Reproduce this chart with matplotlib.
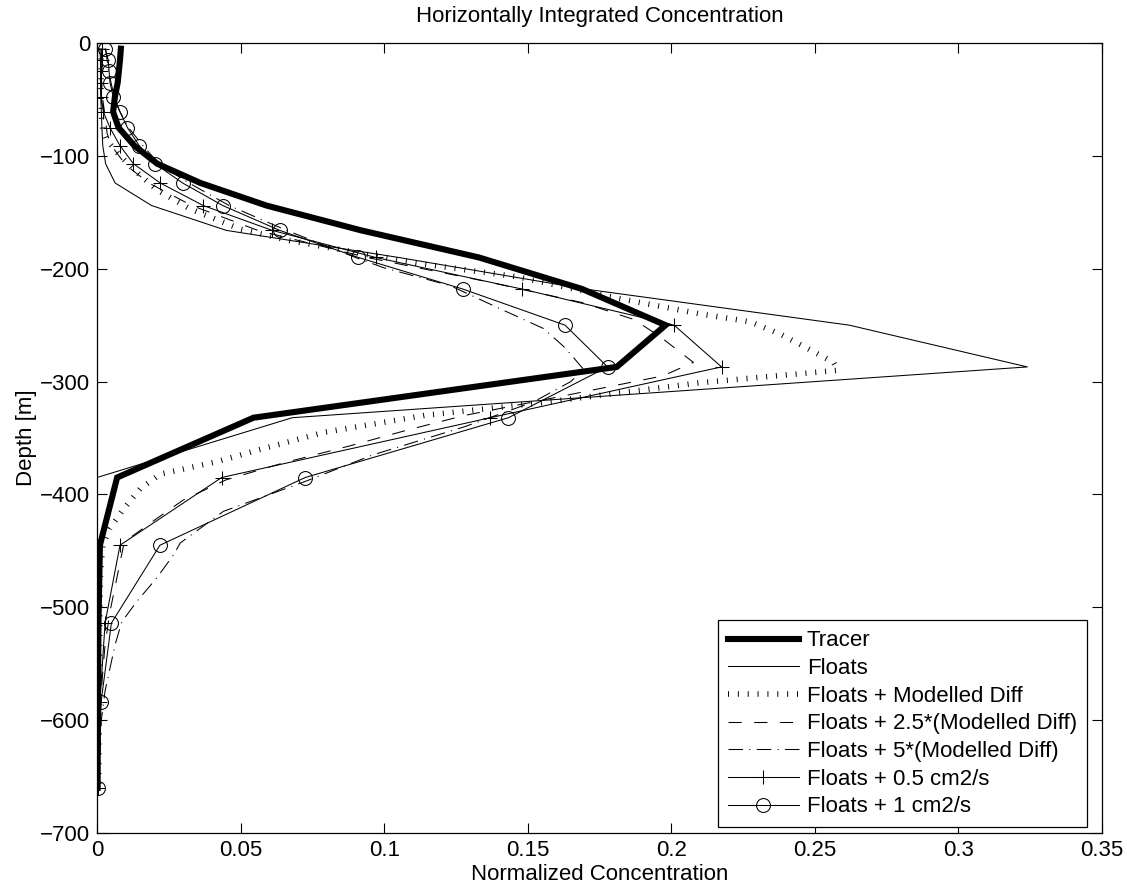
import matplotlib
matplotlib.use("Agg")
import matplotlib.pyplot as plt
from matplotlib.ticker import FuncFormatter, MultipleLocator

plt.rcParams['font.family'] = ['Liberation Sans', 'DejaVu Sans']
plt.rcParams['lines.scale_dashes'] = False

# ---- data ----
depth = [-5, -15, -25, -35, -48, -61, -75, -91, -107, -124, -144, -166, -190,
         -218, -250, -287, -332, -385, -445, -514, -584, -660]
tracer = [0.0083, 0.0080, 0.0076, 0.0072, 0.0062, 0.0056, 0.0075, 0.013, 0.021,
          0.036, 0.059, 0.092, 0.133, 0.169, 0.198, 0.181, 0.0545, 0.007, 0.001,
          0.0005, 0.0003, 0.0002]
floats = [0.001, 0.0012, 0.0012, 0.0012, 0.0013, 0.0015, 0.0017, 0.002, 0.003,
          0.0063, 0.019, 0.045, 0.105, 0.17, 0.262, 0.324, 0.068, 0.0, 0.0, 0.0,
          0.0, 0.0]
floats_k05 = [0.0018, 0.0017, 0.0015, 0.0013, 0.0015, 0.0022, 0.0045, 0.008,
              0.0127, 0.022, 0.037, 0.061, 0.097, 0.148, 0.201, 0.2175, 0.137,
              0.0434, 0.008, 0.0028, 0.001, 0.0005]
floats_k1 = [0.0028, 0.0039, 0.0042, 0.0045, 0.0057, 0.008, 0.0106, 0.0147,
             0.0202, 0.0298, 0.0438, 0.0636, 0.091, 0.1274, 0.163, 0.1778,
             0.1433, 0.0725, 0.0219, 0.005, 0.0014, 0.0005]

mod_depth = [-5, -30, -50, -65, -77, -86, -97, -112, -130, -147, -165, -175,
             -195, -207, -226, -240, -247, -258, -270, -283, -290, -301, -319,
             -330, -345, -361, -371, -382, -395, -413, -430, -445, -470, -500,
             -560, -660]
mod_diff = [0.0014, 0.0014, 0.0014, 0.0016, 0.002, 0.0034, 0.007, 0.0127, 0.0208,
            0.0324, 0.05, 0.067, 0.111, 0.146, 0.181, 0.21, 0.2275, 0.238, 0.247,
            0.2565, 0.258, 0.21, 0.154, 0.114, 0.079, 0.0556, 0.0417, 0.022,
            0.015, 0.0092, 0.0045, 0.002, 0.0012, 0.0010, 0.0008, 0.0006]

d25_depth = [-5, -30, -50, -65, -80, -91, -108, -124, -144, -166, -190, -211,
             -230, -245, -260, -283, -295, -318, -330, -343, -357, -372, -387,
             -405, -421, -442, -474, -504, -533, -551, -574, -620, -660]
mod_diff25 = [0.0015, 0.0015, 0.002, 0.0028, 0.0035, 0.005, 0.01, 0.018, 0.033,
              0.056, 0.094, 0.135, 0.169, 0.187, 0.196, 0.2077, 0.197, 0.152,
              0.128, 0.108, 0.088, 0.065, 0.045, 0.03, 0.021, 0.0095, 0.0069,
              0.0045, 0.0028, 0.0022, 0.0015, 0.0008, 0.0005]

d5_depth = [-5, -25, -48, -61, -75, -91, -108, -124, -144, -166, -190, -199,
            -215, -235, -253, -270, -289, -300, -318, -340, -365, -388, -415,
            -443, -454, -474, -495, -513, -533, -560, -574, -600, -660]
mod_diff5 = [0.003, 0.004, 0.006, 0.008, 0.011, 0.016, 0.022, 0.032, 0.046,
             0.066, 0.09, 0.0997, 0.123, 0.14, 0.1555, 0.163, 0.1694, 0.165,
             0.152, 0.128, 0.096, 0.073, 0.044, 0.029, 0.0265, 0.0208, 0.0138,
             0.0086, 0.0063, 0.004, 0.0028, 0.0015, 0.0005]

labels = ['Tracer', 'Floats', 'Floats + Modelled Diff',
          'Floats + 2.5*(Modelled Diff)', 'Floats + 5*(Modelled Diff)',
          'Floats + 0.5 cm2/s', 'Floats + 1 cm2/s']
xticks = [0, 0.05, 0.1, 0.15, 0.2, 0.25, 0.3, 0.35]
title = 'Horizontally Integrated Concentration'
xlabel = 'Normalized Concentration'
ylabel = 'Depth [m]'

# ---- figure ----
fig = plt.figure(figsize=(11.27, 8.91), dpi=100)
ax = fig.add_axes([0.0861, 0.0651, 0.8917, 0.8866])

FS = 16
thin = 0.75
ax.plot(tracer, depth, color='k', lw=4.4, solid_joinstyle='miter', label=labels[0])
ax.plot(floats, depth, color='k', lw=thin, label=labels[1])
ax.plot(mod_diff, mod_depth, color='k', lw=4.0, dashes=(0.7, 6.4),
        dash_capstyle='butt', label=labels[2])
ax.plot(mod_diff25, d25_depth, color='k', lw=thin, dashes=(9.5, 9.0),
        label=labels[3])
ax.plot(mod_diff5, d5_depth, color='k', lw=thin, dashes=(10.5, 4.5, 0.8, 4.5),
        label=labels[4])
ax.plot(floats_k05, depth, color='k', lw=thin, marker='+', ms=10, mew=thin,
        label=labels[5])
ax.plot(floats_k1, depth, color='k', lw=thin, marker='o', ms=10, mew=thin,
        mfc='none', label=labels[6])

ax.set_xlim(0, 0.35)
ax.set_ylim(-700, 0)
ax.set_xticks(xticks)
ax.yaxis.set_major_locator(MultipleLocator(100))

fmt = FuncFormatter(lambda v, p: ('%g' % v).replace('-', '\u2212'))
ax.xaxis.set_major_formatter(fmt)
ax.yaxis.set_major_formatter(fmt)
ax.tick_params(direction='in', length=7, width=0.8, top=True, right=True,
               labelsize=FS, pad=5)
for s in ax.spines.values():
    s.set_linewidth(0.9)

ax.set_title(title, fontsize=FS, pad=15)
ax.set_xlabel(xlabel, fontsize=FS, labelpad=2)
ax.set_ylabel(ylabel, fontsize=FS, labelpad=2)

leg = ax.legend(loc='lower right', bbox_to_anchor=(0.985, 0.007), fontsize=FS,
                frameon=True, fancybox=False, framealpha=1, edgecolor='k',
                handlelength=3.2, handletextpad=0.35, labelspacing=0.3,
                borderpad=0.45, borderaxespad=0.0)
leg.get_frame().set_linewidth(0.9)

fig.savefig('out.png', dpi=100)
